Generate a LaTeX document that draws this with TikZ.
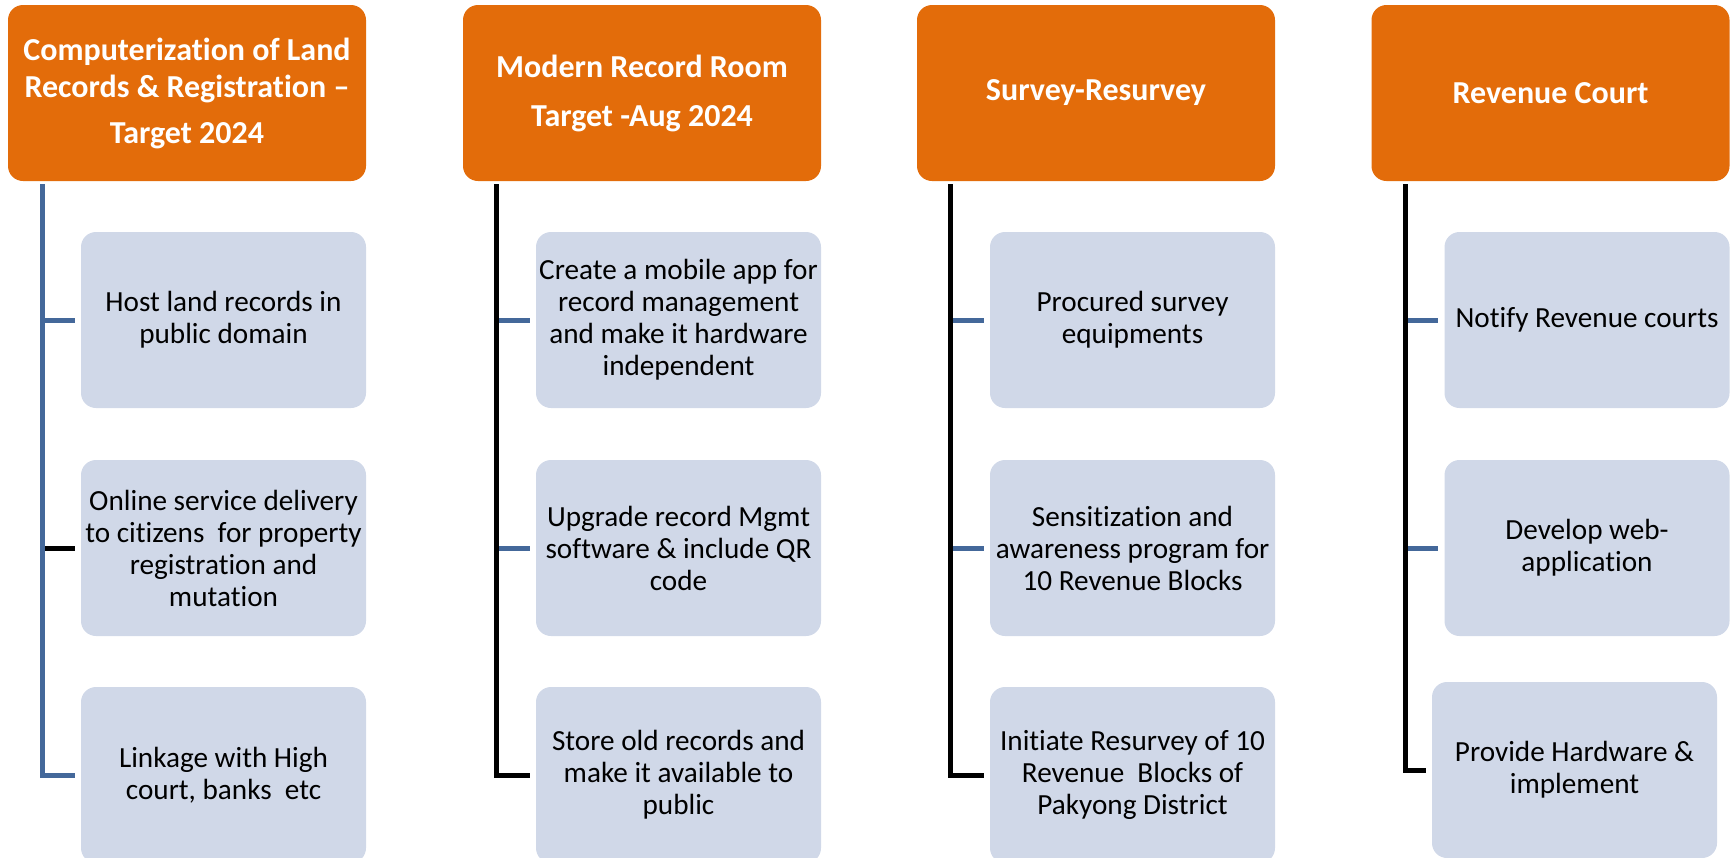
\documentclass[tikz,border=0pt]{standalone}
\usepackage{fontspec}
\setmainfont{Carlito}[Ligatures=NoCommon]

\definecolor{headorange}{HTML}{E36C0A}
\definecolor{taskfill}{HTML}{D0D8E8}
\definecolor{linkblue}{HTML}{44689A}

\tikzset{
  head/.style={fill=headorange, rounded corners=7.5pt, minimum width=179pt,
    minimum height=88pt, text=white, align=center, inner sep=2pt,
    font=\fontsize{16}{18.5}\selectfont\bfseries},
  task/.style={fill=taskfill, rounded corners=7.5pt, minimum width=142.5pt,
    minimum height=88pt, align=center, inner sep=0pt,
    font=\fontsize{14.6}{16}\selectfont},
  bluelink/.style={draw=linkblue, line width=2.5pt, shorten >=3pt},
  blacklink/.style={draw=black, line width=2.5pt, shorten >=3pt}
}

\begin{document}
\begin{tikzpicture}[x=0.5pt,y=-0.5pt]
    \useasboundingbox (0,0) rectangle (1733,857);
    \clip (0,0) rectangle (1733,857);

    % heads
    \node[head] (h1) at (187,93) {Computerization of Land\\Records \& Registration --\\[4.5pt]Target 2024};
    \node[head] (h2) at (642,93) {Modern Record Room\\[6pt]Target -Aug 2024};
    \node[head] (h3) at (1096,93) {Survey-Resurvey};
    \node[head] (h4) at (1550.5,93) {Revenue Court};

    % tasks
    \node[task] (c11) at (223.5,320) {Host land records in\\public domain};
    \node[task] (c12) at (223.5,548) {Online service delivery\\to citizens\ \ for property\\registration and\\mutation};
    \node[task] (c13) at (223.5,775) {Linkage with High\\court, banks\ \ etc};

    \node[task] (c21) at (678.5,320) {Create a mobile app for\\record management\\and make it hardware\\independent};
    \node[task] (c22) at (678.5,548) {Upgrade record Mgmt\\software \& include QR\\code};
    \node[task] (c23) at (678.5,775) {Store old records and\\make it available to\\public};

    \node[task] (c31) at (1132.5,320) {Procured survey\\equipments};
    \node[task] (c32) at (1132.5,548) {Sensitization and\\awareness program for\\10 Revenue Blocks};
    \node[task] (c33) at (1132.5,775) {Initiate Resurvey of 10\\Revenue\ \ Blocks of\\Pakyong District};

    \node[task] (c41) at (1587,320) {Notify Revenue courts};
    \node[task] (c42) at (1587,548) {Develop web-\\application};
    \node[task] (c43) at (1574.5,770) {Provide Hardware \&\\implement};

    \coordinate (v1) at (42,184);
    \coordinate (v2) at (496,184);
    \coordinate (v3) at (950,184);
    \coordinate (v4) at (1405,184);

    % ticks
    \draw[bluelink] (c11.west -| v1) -- (c11.west);
    \draw[blacklink] (c12.west -| v1) -- (c12.west);
    \draw[bluelink] (c21.west -| v2) -- (c21.west);
    \draw[bluelink] (c22.west -| v2) -- (c22.west);
    \draw[bluelink] (c31.west -| v3) -- (c31.west);
    \draw[bluelink] (c32.west -| v3) -- (c32.west);
    \draw[bluelink] (c41.west -| v4) -- (c41.west);
    \draw[bluelink] (c42.west -| v4) -- (c42.west);

    % spines
    \draw[bluelink] (v1) |- (c13.west);
    \draw[blacklink] (v2) |- (c23.west);
    \draw[blacklink] (v3) |- (c33.west);
    \draw[blacklink] (v4) |- (c43.west);
\end{tikzpicture}
\end{document}
